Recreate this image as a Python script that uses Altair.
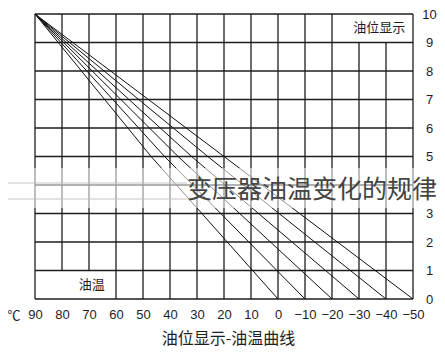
import altair as alt
import pandas as pd

# axis ticks
x_ticks = [-50, -40, -30, -20, -10, 0, 10, 20, 30, 40, 50, 60, 70, 80, 90]
y_ticks = [0, 1, 2, 3, 4, 5, 6, 7, 8, 9, 10]
# level labels visible on the right (4 is hidden behind the watermark)
y_labels = [0, 1, 2, 3, 5, 6, 7, 8, 9, 10]

# oil-level curves: common start (90 ℃, level 10), end temperature at level 0
curve_start_temp = 90
curve_start_level = 10
curve_mid_level = 5
curve_mid_temp = [47, 42, 37, 32, 26, 20]
curve_end_temp = [0, -10, -20, -30, -40, -50]

# gridline gaps (merged label cells)
top_gap_x = [-30, -40]      # vertical lines stop at level 9
bottom_gap_x = [70, 80]     # vertical lines start at level 1

FONT_CJK = "Noto Sans CJK SC"
FONT_NUM = "Liberation Sans"
INK = "#1e1e1e"

# ---- tables built from the lists ----
vrows = []
for xv in x_ticks:
    y0, y1 = 0, 10
    if xv in top_gap_x:
        y1 = 9
    if xv in bottom_gap_x:
        y0 = 1
    vrows.append({"x": xv, "y": y0, "y2": y1})
vgrid = pd.DataFrame(vrows)
hgrid = pd.DataFrame({"y": y_ticks, "x": [x_ticks[0]] * len(y_ticks), "x2": [x_ticks[-1]] * len(y_ticks)})

crows = []
for i, (m, e) in enumerate(zip(curve_mid_temp, curve_end_temp)):
    crows.append({"id": i, "order": 0, "t": curve_start_temp, "lvl": curve_start_level})
    crows.append({"id": i, "order": 1, "t": m, "lvl": curve_mid_level})
    crows.append({"id": i, "order": 2, "t": e, "lvl": 0})
curves = pd.DataFrame(crows)

xscale = alt.Scale(domain=[x_ticks[0], x_ticks[-1]], reverse=True, nice=False, zero=False)
yscale = alt.Scale(domain=[y_ticks[0], y_ticks[-1]], nice=False, zero=False)

xaxis = alt.Axis(values=x_ticks, domain=False, ticks=False, grid=False, labelOverlap=False,
                 labelFlush=False,
                 labelFont=FONT_NUM, labelFontSize=13, labelColor=INK, labelPadding=9,
                 title="油位显示-油温曲线", titleFont=FONT_CJK, titleFontSize=16,
                 titleFontWeight="normal", titleColor=INK, titlePadding=9, titleX=193)
yaxis = alt.Axis(values=y_labels, orient="right", domain=False, ticks=False, grid=False,
                 labelOverlap=False, labelFlush=False,
                 labelFont=FONT_NUM, labelFontSize=13, labelColor=INK, labelAlign="center",
                 labelPadding=16, title=None)

vlines = alt.Chart(vgrid).mark_rule(color=INK, strokeWidth=1.3).encode(
    x=alt.X("x:Q", scale=xscale, axis=xaxis),
    y=alt.Y("y:Q", scale=yscale, axis=yaxis),
    y2="y2:Q",
)
hlines = alt.Chart(hgrid).mark_rule(color=INK, strokeWidth=1.3).encode(
    x=alt.X("x:Q", scale=xscale, axis=xaxis),
    x2="x2:Q",
    y=alt.Y("y:Q", scale=yscale, axis=yaxis),
)
fan = alt.Chart(curves).mark_line(color="#111", strokeWidth=1).encode(
    x=alt.X("t:Q", scale=xscale, axis=xaxis),
    y=alt.Y("lvl:Q", scale=yscale, axis=yaxis),
    detail="id:N",
    order="order:Q",
)

labels = pd.DataFrame({"t": [-37.5, 69], "lvl": [9.5, 0.5], "txt": ["油位显示", "油温"]})
cell_text = alt.Chart(labels).mark_text(font=FONT_CJK, fontSize=13, color=INK).encode(
    x=alt.X("t:Q", scale=xscale, axis=xaxis), y=alt.Y("lvl:Q", scale=yscale, axis=yaxis),
    text="txt:N")

unit = alt.Chart(pd.DataFrame({"u": ["℃"]})).mark_text(
    font=FONT_CJK, fontSize=13, color=INK).encode(
    x=alt.value(-21), y=alt.value(302), text="u:N")

# watermark band + text
band = alt.Chart(pd.DataFrame({"a": [0]})).mark_rect(color="white", opacity=0.55).encode(
    x=alt.value(-35), x2=alt.value(410), y=alt.value(154), y2=alt.value(194))
wlines = alt.Chart(pd.DataFrame({"yy": [169, 185]})).mark_rule(color="#c4c4c4", strokeWidth=1).encode(
    x=alt.value(-35), x2=alt.value(152), y=alt.Y("yy:Q", scale=None))
wm = alt.Chart(pd.DataFrame({"w": ["变压器油温变化的规律"]})).mark_text(
    font=FONT_CJK, fontSize=25, color="#444", align="left", baseline="middle").encode(
    x=alt.value(152), y=alt.value(176), text="w:N")

chart = alt.layer(vlines, hlines, fan, cell_text, unit, band, wlines, wm).properties(
    width=378, height=285,
    padding={"left": 27, "top": 6, "right": 24, "bottom": 48},
    autosize=alt.AutoSizeParams(type="none"),
    background="white",
).configure_view(stroke=None).configure_axis(labelOverlap=False, labelFlush=False)

chart.save("out.html", embed_options={"renderer": "svg", "actions": False})
